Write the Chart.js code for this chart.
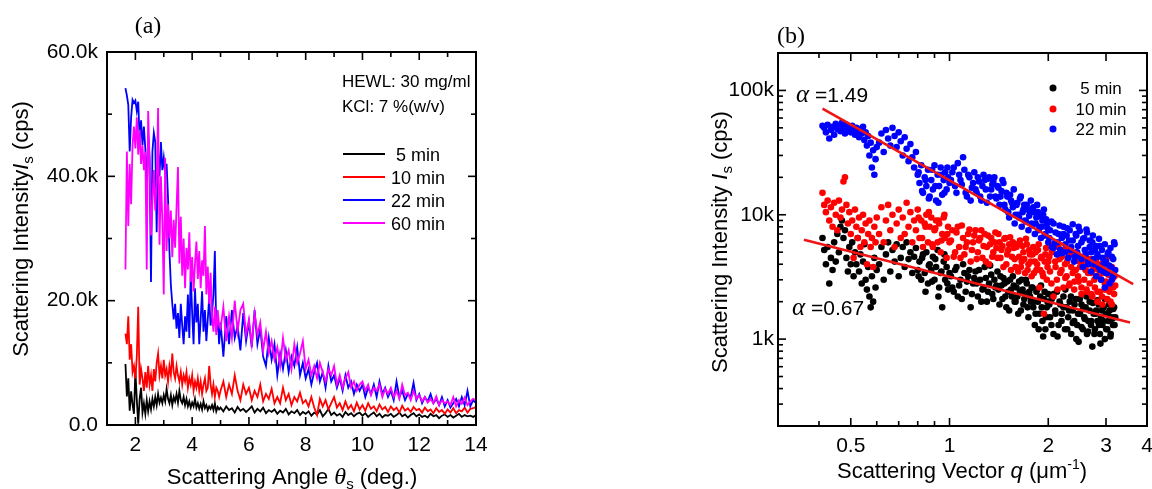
<!DOCTYPE html>
<html>
<head>
<meta charset="utf-8">
<title>Scattering intensity</title>
<script src="https://cdn.jsdelivr.net/npm/chart.js@4.4.1/dist/chart.umd.min.js"></script>
<style>
    html, body { margin: 0; padding: 0; background: #fff; overflow: hidden; }
    #wrap { position: relative; width: 1152px; height: 489px; }
    canvas { position: absolute; top: 0; }
    #chartA { left: 0; width: 560px; height: 489px; }
    #chartB { left: 560px; width: 592px; height: 489px; }
    #boxA { position: absolute; box-sizing: border-box; border: 2px solid #000; pointer-events: none; z-index: 3; }
</style>
</head>
<body>
<div id="wrap">
    <canvas id="chartA" width="560" height="489"></canvas>
    <canvas id="chartB" width="592" height="489"></canvas>
    <div id="boxA"></div>
</div>
<script>
// --- (a) intensity vs scattering angle, kcps ---

const angle = [
    1.65,1.70,1.75,1.80,1.85,1.90,1.95,2.00,2.05,2.10,
    2.15,2.20,2.25,2.30,2.35,2.40,2.45,2.50,2.55,2.60,
    2.65,2.70,2.75,2.80,2.85,2.90,2.95,3.00,3.05,3.10,
    3.15,3.20,3.25,3.30,3.35,3.40,3.45,3.50,3.55,3.60,
    3.65,3.70,3.75,3.80,3.85,3.90,3.95,4.00,4.05,4.10,
    4.15,4.20,4.25,4.30,4.35,4.40,4.45,4.50,4.55,4.60,
    4.65,4.70,4.75,4.80,4.85,4.90,4.95,
    5.0,5.1,5.2,5.3,5.4,5.5,5.6,5.7,5.8,5.9,
    6.0,6.1,6.2,6.3,6.4,6.5,6.6,6.7,6.8,6.9,
    7.0,7.1,7.2,7.3,7.4,7.5,7.6,7.7,7.8,7.9,
    8.0,8.1,8.2,8.3,8.4,8.5,8.6,8.7,8.8,8.9,
    9.0,9.1,9.2,9.3,9.4,9.5,9.6,9.7,9.8,9.9,
    10.0,10.1,10.2,10.3,10.4,10.5,10.6,10.7,10.8,10.9,
    11.0,11.1,11.2,11.3,11.4,11.5,11.6,11.7,11.8,11.9,
    12.0,12.1,12.2,12.3,12.4,12.5,12.6,12.7,12.8,12.9,
    13.0,13.1,13.2,13.3,13.4,13.5,13.6,13.7,13.8,13.9,
    14.0
];

const int5 = [
    9.8,4.6,7.5,2.3,5.4,3.3,1.8,8.8,4.0,0.2,
    4.2,6.0,2.0,3.5,1.8,4.0,2.2,3.8,2.5,4.2,
    3.0,4.5,3.2,5.0,3.6,4.4,3.5,4.8,3.8,5.8,
    4.2,3.5,4.8,3.2,4.5,3.8,5.0,3.6,5.5,4.0,
    3.5,4.5,3.2,4.2,3.0,3.8,2.8,3.6,3.0,4.2,
    2.8,3.5,2.6,3.4,2.5,3.8,2.7,3.2,2.4,3.0,
    2.6,3.2,2.4,3.5,2.2,2.9,2.5,
    2.8,2.2,3.0,2.4,2.7,2.0,2.9,2.3,2.6,2.1,
    2.5,3.0,2.0,2.6,2.2,2.8,1.9,2.4,2.1,2.5,
    1.8,2.3,2.0,2.6,1.7,2.2,1.9,2.4,1.6,2.1,
    1.8,2.2,1.5,2.0,1.7,2.4,1.4,1.9,2.6,1.6,
    2.0,1.5,1.8,1.3,2.1,1.6,1.9,1.4,1.8,2.0,
    1.5,1.9,1.3,1.7,2.0,1.4,1.8,1.2,1.6,1.5,
    1.8,1.3,1.6,2.0,1.4,1.7,1.2,1.6,1.9,1.4,
    1.7,1.3,1.5,1.2,1.8,1.4,1.6,1.1,1.5,1.7,
    1.3,1.6,1.2,1.5,1.8,1.3,1.6,1.4,1.5,1.3,
    1.6
];

const int10 = [
    14.7,13.0,17.5,10.5,13.0,8.5,9.5,7.5,11.0,19.0,
    6.5,9.0,7.5,5.5,8.5,6.0,9.5,6.5,8.0,5.5,
    9.0,7.0,10.0,11.5,8.0,9.5,7.5,10.5,8.0,9.0,
    7.0,9.5,8.0,11.5,8.5,7.5,9.5,8.0,7.0,8.5,
    6.5,8.0,7.0,8.5,6.0,7.5,6.5,8.0,5.5,7.0,
    6.0,7.5,5.5,7.0,5.0,6.5,7.5,5.5,6.0,9.5,
    6.5,5.0,6.5,4.5,6.0,5.5,4.5,
    5.5,7.0,4.5,6.5,5.0,8.0,5.5,4.0,6.5,5.0,
    6.0,4.0,5.5,4.5,6.5,3.8,5.0,4.2,5.8,3.5,
    4.5,3.5,6.0,4.0,5.0,3.2,4.5,3.8,5.2,3.5,
    4.0,3.0,4.5,2.8,1.6,4.2,3.0,4.0,2.5,3.5,
    4.5,2.8,3.5,2.4,3.8,2.6,3.2,2.2,3.6,2.5,
    3.2,2.3,3.5,2.6,3.0,2.2,3.3,2.5,2.9,2.1,
    3.0,2.4,2.8,2.0,3.1,2.3,2.7,2.1,2.9,2.4,
    2.6,2.0,2.8,2.2,2.5,1.9,2.7,2.1,2.4,1.8,
    2.5,2.0,2.7,1.9,2.4,2.2,2.8,2.0,2.6,2.7,
    2.9
];

const int22 = [
    54.2,53.0,51.5,44.0,49.5,52.3,51.8,52.2,50.5,52.0,
    46.0,49.0,45.0,48.0,44.5,37.0,46.5,43.0,23.0,44.0,
    47.0,45.5,31.0,44.0,40.0,45.5,41.0,43.0,40.5,42.0,
    36.5,28.0,22.5,19.5,17.0,19.5,15.5,18.0,14.0,19.5,
    16.0,13.0,17.5,15.0,21.0,14.0,24.5,18.0,13.0,22.0,
    16.5,19.5,13.0,17.0,21.5,15.0,18.5,13.5,17.0,20.5,
    16.0,18.0,21.0,28.0,15.0,17.5,13.0,
    16.5,11.0,17.5,13.0,18.5,14.0,16.0,12.0,18.0,13.5,
    16.5,12.5,18.5,13.0,15.5,11.0,9.5,14.0,10.5,13.0,
    8.0,11.5,9.0,12.0,8.5,11.0,9.5,12.5,8.0,10.0,
    7.5,9.0,6.5,8.5,10.0,7.0,8.5,6.0,9.5,7.0,
    8.0,6.0,7.5,5.5,8.0,6.0,7.0,5.0,6.5,5.5,
    6.5,4.5,6.0,5.0,6.5,4.5,7.0,5.0,6.0,4.5,
    5.5,4.0,7.0,4.5,5.5,4.0,5.0,4.5,6.8,4.0,
    5.0,3.5,4.5,3.8,5.0,3.5,4.2,3.2,4.5,3.0,
    4.0,2.8,3.5,4.2,3.0,4.5,3.2,5.5,3.0,4.0,
    3.5
];

const int60 = [
    25.0,44.0,32.0,42.0,35.5,45.0,48.0,44.5,49.5,43.5,
    47.5,42.0,45.0,41.0,44.0,25.0,50.5,42.5,30.5,36.0,
    41.0,34.5,39.0,51.0,29.0,40.0,33.0,21.0,43.0,28.0,
    35.5,30.0,34.5,27.0,33.0,28.5,35.0,41.5,26.0,33.5,
    24.0,30.0,22.0,28.5,25.0,31.0,23.0,27.0,21.5,26.0,
    29.5,23.5,28.0,22.0,26.5,24.0,32.0,21.0,25.5,19.5,
    24.5,17.5,15.0,19.0,14.5,18.5,16.0,
    15.5,19.0,13.5,17.5,14.0,20.0,15.0,18.5,19.5,14.5,
    17.0,13.0,18.0,14.5,16.5,12.0,15.0,11.5,13.5,10.5,
    12.5,9.5,14.0,10.5,12.0,9.0,13.0,10.0,11.5,13.5,
    9.0,10.5,8.0,9.5,7.5,10.0,8.5,7.0,9.0,8.0,
    9.5,6.5,8.0,6.0,7.5,8.5,6.0,7.0,5.5,6.5,
    7.0,5.5,6.5,4.8,6.0,5.5,6.5,4.5,5.8,5.0,
    6.0,4.5,5.5,4.2,6.5,4.8,5.2,4.0,5.5,4.2,
    4.8,3.8,4.5,3.6,4.2,3.5,4.6,3.2,4.0,3.5,
    3.8,3.2,4.5,3.0,4.0,3.4,4.4,3.2,3.8,4.2,
    4.0
];

const labelsA = ['5 min', '10 min', '22 min', '60 min'];

const xTicksA = [2, 4, 6, 8, 10, 12, 14];
const xMinorA = [3, 5, 7, 9, 11, 13];
const yTicksA = [0, 20, 40, 60];
const yTickLabelsA = ['0.0', '20.0k', '40.0k', '60.0k'];
const yMinorA = [10, 30, 50];

// --- (b) log-log intensity vs scattering vector q (um^-1), kcps ---

const qVec = [
    0.410,0.415,0.420,0.425,0.430,0.435,0.440,0.445,0.450,0.455,
    0.460,0.465,0.470,0.475,0.480,0.485,0.490,0.495,0.500,0.505,
    0.510,0.515,0.520,0.525,0.530,0.535,0.540,0.545,0.550,0.555,
    0.560,0.565,0.570,0.575,0.580,0.585,0.590,0.595,0.600,
    0.61,0.62,0.63,0.64,0.65,0.66,0.67,0.68,0.69,0.70,
    0.71,0.72,0.73,0.74,0.75,0.76,0.77,0.78,0.79,0.80,
    0.81,0.82,0.83,0.84,0.85,0.86,0.87,0.88,0.89,0.90,
    0.91,0.92,0.93,0.94,0.95,0.96,0.97,0.98,0.99,1.00,
    1.02,1.04,1.06,1.08,1.10,1.12,1.14,1.16,1.18,1.20,
    1.22,1.24,1.26,1.28,1.30,1.32,1.34,1.36,1.38,1.40,
    1.42,1.44,1.46,1.48,1.50,1.52,1.54,1.56,1.58,1.60,
    1.62,1.64,1.66,1.68,1.70,1.72,1.74,1.76,1.78,1.80,
    1.82,1.84,1.86,1.88,1.90,1.92,1.94,1.96,1.98,2.00,
    2.025,2.05,2.075,2.1,2.125,2.15,2.175,2.2,2.225,2.25,
    2.275,2.3,2.325,2.35,2.375,2.4,2.425,2.45,2.475,2.5,
    2.525,2.55,2.575,2.6,2.625,2.65,2.675,2.7,2.725,2.75,
    2.775,2.8,2.825,2.85,2.875,2.9,2.925,2.95,2.975,3.0,
    3.025,3.05,3.075,3.1,3.125,3.15,3.175,3.2
];

const qInt5 = [
    6.5,5.2,4,5.5,2.8,4.5,3.6,6,4.2,7,
    5,8,9,6.5,7.5,4.5,3.5,5.5,4,6,
    3.2,5,4,6.5,3.5,4.8,2.8,4.2,5.8,3,
    2.5,3.8,2.2,1.8,3.2,2,4.5,2.6,3.6,
    4,5.5,3,4.8,6,3.5,5.2,4.2,5.8,3.2,
    4.5,5.5,3.8,6,4.4,5,3.4,4.6,5.4,3.6,
    4.2,3,4.8,3.4,5,2.8,4,3.6,4.6,3,
    3.8,5.2,2.6,3.4,1.8,4.2,3,3.8,2.5,3.4,
    2.6,3.6,2.2,3,4,2.4,3.2,1.8,2.8,3.5,
    2.2,3,2.5,3.8,2,2.8,3.3,2.1,2.6,3.5,
    1.9,2.7,3.1,2.2,2.9,1.7,2.5,3.2,2,2.6,
    1.6,2.4,3,1.9,2.3,2.8,1.5,2.2,2.6,1.8,
    1.3,2.4,2,1.6,2.7,1.4,2.1,1.2,1.8,2.3,
    1.5,2.1,1.1,1.7,2.4,1.3,1.9,1.6,2.2,1.2,
    1.8,1.5,2,1.1,1.7,1.4,2.1,1.3,0.95,1.6,
    1.9,1.2,1.5,1.8,1.1,1.4,2,1.3,0.87,1.6,
    1.2,1.7,1.4,1.9,1.1,1.5,1.3,1.8,1,1.6,
    1.2,1.4,1.7,1.1,1.5,1.3,1.8,1.5
];

const qInt10 = [
    15,12,10.5,13,9,11.5,8,12.5,10,7.5,
    13,9.5,11,18.5,20,12,8.5,10.5,7,9,
    4.5,11,8,6.5,9.5,5.5,7.5,10,6,8.5,
    4,7,9,5.5,6.5,3.8,8,6,9.5,
    7,11.5,6,9,12,7.5,10,5.5,8.5,11,
    6.5,9.5,7,12.5,8,10.5,6,9,7.5,11,
    6.5,9,5.5,8.5,10,6,8,9.5,5.5,7.5,
    9,6,8.5,5,7,9.5,6.5,4.5,8,6,
    7.5,5,8,4.5,6.5,5.5,7,4.2,6,7.5,
    5,6.5,4.5,7,5.5,4,6.5,5,7.2,4.5,
    6,5.2,3.8,6.5,4.8,5.8,3.6,6,4.4,5.5,
    3.5,6.2,4.2,5,3.4,5.8,4,4.8,3.2,5.5,
    4.2,3.6,5.2,2.6,4.5,3.4,1.6,4.8,3,4.2,
    3.5,5,2.2,4.2,3,5.5,3.4,4.6,2.6,4,
    3.2,5.2,2.8,3.8,4.8,2.5,3.6,4.4,2.9,3.8,
    2.3,4.2,3,3.6,2.4,4,2.8,3.4,2.2,3.8,
    2.6,3.2,2,3.6,2.4,3,1.9,3.4,2.5,2.9,
    2.1,3.3,2.4,2.8,1.9,3.1,2.3,2.7
];

const qInt22 = [
    52,50,46,53,41,48,51,44,54,49,
    52,47,55,50,45,53,48,51,46,52,
    49,44,50,47,42,49,45,51,40,46,
    36,43,30,38,24,33,21,28,35,
    38,45,32,48,41,36,50,43,35,46,
    39,30,42,34,27,37,29,24,32,21,
    18,25,15,20,17,23,14,19,16,25,
    13,21,17,24,14.5,19,22,16,20,18,
    22,17,26,19,29,15,21,13,18,16,
    20,14,17,19,12.5,20,16,18.5,14,17,
    12,15.5,18,11,14,9.5,13,11.5,8.5,12,
    10,13.5,8,11,9,12,7.5,10.5,8.5,11.5,
    7,9.5,10.5,8,6.5,9,11,7,8.5,6,
    7.5,5.5,8.5,6,4.8,7,5.2,6.5,8,5,
    6.8,4.5,7.5,5.5,6.2,4.2,7,5,8,4.6,
    6,3.8,6.5,4.8,7.2,4,5.5,3.5,6,4.4,
    5.2,3.2,4.8,3.8,5.6,3,4.5,3.5,2.6,4.2,
    3.4,5,2.8,3.8,4.6,3.2,6,3.6
];

// second sweep, denser at larger q
const qVec2 = [
    0.805,0.825,0.845,0.865,0.885,0.905,0.925,0.945,0.965,0.985,
    1.01,1.03,1.05,1.07,1.09,1.11,1.13,1.15,1.17,1.19,
    1.21,1.23,1.25,1.27,1.29,1.31,1.33,1.35,1.37,1.39,
    1.41,1.43,1.45,1.47,1.49,1.51,1.53,1.55,1.57,1.59,
    1.61,1.63,1.65,1.67,1.69,1.71,1.73,1.75,1.77,1.79,
    1.81,1.83,1.85,1.87,1.89,1.91,1.93,1.95,1.97,1.99,
    2.015,2.045,2.075,2.105,2.135,2.165,2.195,2.225,2.255,2.285,
    2.315,2.345,2.375,2.405,2.435,2.465,2.495,2.525,2.555,2.585,
    2.615,2.645,2.675,2.705,2.735,2.765,2.795,2.825,2.855,2.885,
    2.915,2.945,2.975,3.005,3.035,3.065,3.095,3.125,3.155,3.185
];

const qInt5b = [
    3.2,4.5,2.4,3.9,2.9,4.4,2.2,3.5,4.8,2.8,
    3.2,2.4,3.8,2.7,2.1,3.4,2.9,3.6,2.3,3.1,
    2.8,3.6,2,2.6,3.1,2.4,3.9,2.3,3,2.7,
    2.5,3.2,2.1,2.8,1.8,2.4,3,2.2,2.7,2,
    2.2,2.9,1.7,2.5,2.1,3,1.8,2.4,2,2.6,
    2,1.6,2.5,1.2,2.2,1.8,1.05,2.4,1.5,2,
    1.9,1.3,2.3,1.6,1.05,2,1.4,1.8,2.5,1.2,
    1.7,2.2,1.35,1.9,1,1.6,2.1,1.25,1.75,1.45,
    2.2,1.15,1.7,1.4,1.95,1.1,1.6,2.05,1.3,0.92,
    1.7,1.4,2.1,1.2,1.6,1.9,1.05,1.45,1.75,1.3
];

const qInt10b = [
    9.5,6.5,8,10.5,5.8,7.8,9,6.2,10,7,
    6.2,4.6,7.2,5.5,8.2,4.8,6,7.6,5.2,6.8,
    4.4,6.2,7.5,5.6,4.2,6.8,5.8,4.6,6,5.4,
    7,4.5,5.6,6.4,4,5.2,6.6,4.6,5.4,3.8,
    5.8,4.6,3.8,5.6,4.4,6.4,3.6,5.2,4.2,4.8,
    3.4,5,4,5.8,3.6,4.6,3.2,4.2,5.4,3.8,
    4.6,2.8,5.8,3.8,2.5,4.4,3.6,5.2,3.1,4.2,
    2.7,4.8,3.4,2.9,5,3.2,4.2,2.6,3.8,4.6,
    2.5,3.4,4.4,2.3,3.6,3,4.2,2.4,3.2,4,
    2.2,3.6,2.8,4.4,2.5,3.4,2,3.8,2.6,3.2
];

const qInt22b = [
    22,15.5,19,13.5,23,17,12.5,21,15,24,
    19,24,15,21,17.5,23,14,20,16.5,22,
    15,18.5,13,21,16,19.5,14,17.5,20,13.5,
    16.5,14,19,12,15,10.5,14.5,12.5,16,10,
    12.5,9.5,14,10.5,12,8.8,11,9.8,13,8.2,
    10.5,8.5,12,7.5,9.8,8,10,6.8,9.2,7.8,
    6.5,8.8,5.4,7.2,6,8.2,4.9,7,5.8,7.8,
    6.2,5.2,8.4,4.6,6.8,5.6,7.4,4.4,6.4,5.2,
    7.6,4.2,6.2,5,6.8,4,5.6,4.6,6.4,3.6,
    5.2,4,5.8,3.4,4.8,3.9,5.4,3,4.4,5.8
];

const labelsB = ['5 min', '10 min', '22 min'];

// power-law fits I = A * q^-alpha, A in kcps at q = 1
const fitAlpha = [1.49, 0.67];
const fitPrefactor = [18.9, 3.18];
const fitQRange = [[0.41, 3.63], [0.36, 3.55]];

const xTicksB = [0.5, 1, 2, 3, 4];
const xMinorB = [0.3, 0.4, 0.6, 0.7, 0.8, 0.9];
const yTicksB = [1, 10, 100];
const yTickLabelsB = ['1k', '10k', '100k'];
const yMinorB = [0.2, 0.3, 0.4, 0.5, 0.6, 0.7, 0.8, 0.9, 2, 3, 4, 5, 6, 7, 8, 9, 20, 30, 40, 50, 60, 70, 80, 90, 200];

// --- shared drawing helpers ---

const SANS = '"Liberation Sans", Arial, sans-serif';
const SERIF = '"Liberation Serif", "Times New Roman", serif';
Chart.defaults.font.family = SANS;
Chart.defaults.color = '#000';

// draws a row of differently styled pieces starting (or centred) at x, baseline y
function drawRuns(ctx, runs, x, y, align) {
    let w = 0;
    runs.forEach(r => { ctx.font = r[1]; w += ctx.measureText(r[0]).width; });
    let cx = align === 'center' ? x - w / 2 : x;
    ctx.textAlign = 'left';
    ctx.textBaseline = 'alphabetic';
    runs.forEach(r => {
        ctx.font = r[1];
        ctx.fillText(r[0], cx, y + (r[2] || 0));
        cx += ctx.measureText(r[0]).width;
    });
}

// box around the plot with inward ticks on all four sides, drawn as filled bars
function drawFrame(ctx, chart, xMajor, xMinor, yMajor, yMinor) {
    const a = chart.chartArea;
    const sx = chart.scales.x, sy = chart.scales.y;
    const w = a.right - a.left, h = a.bottom - a.top;
    const tw = 1.6;
    ctx.save();
    ctx.fillStyle = '#000';
    const xt = (vals, len) => vals.forEach(v => {
        const p = sx.getPixelForValue(v) - tw / 2;
        ctx.fillRect(p, a.bottom - len, tw, len);
        ctx.fillRect(p, a.top, tw, len);
    });
    const yt = (vals, len) => vals.forEach(v => {
        const p = sy.getPixelForValue(v) - tw / 2;
        ctx.fillRect(a.left, p, len, tw);
        ctx.fillRect(a.right - len, p, len, tw);
    });
    xt(xMajor, 8); xt(xMinor, 5);
    yt(yMajor, 8); yt(yMinor, 5);
    ctx.fillRect(a.left - 1, a.top - 1, w + 2, 2);
    ctx.fillRect(a.left - 1, a.bottom - 1, w + 2, 2);
    ctx.fillRect(a.left - 1, a.top - 1, 2, h + 2);
    ctx.fillRect(a.right - 1, a.top - 1, 2, h + 2);
    ctx.restore();
}

function fixedTicks(values) {
    return scale => { scale.ticks = values.map(v => ({ value: v })); };
}

// pin an axis box to a given thickness and drop the label overhang padding
function pinSize(prop, size) {
    return s => {
        s[prop] = size;
        s.paddingLeft = 0; s.paddingRight = 0;
        s.paddingTop = 0; s.paddingBottom = 0;
    };
}

const tickFont = { family: SANS, size: 21 };

// --- chart (a) ---

const colorsA = ['#000000', '#ff0000', '#0000ff', '#ff00ff'];
const seriesA = [int5, int10, int22, int60];

const chartA = new Chart(document.getElementById('chartA'), {
    type: 'line',
    data: {
        datasets: seriesA.map((vals, i) => ({
            label: labelsA[i],
            data: angle.map((a, j) => ({ x: a, y: vals[j] })),
            borderColor: colorsA[i],
            borderWidth: 1.8,
            pointRadius: 0,
            tension: 0,
            order: 4 - i
        }))
    },
    options: {
        responsive: false,
        animation: false,
        devicePixelRatio: 1,
        layout: { padding: { left: 0, top: 52, right: 84, bottom: 0 } },
        plugins: { legend: { display: false }, tooltip: { enabled: false } },
        scales: {
            x: {
                type: 'linear', min: 1, max: 14,
                grid: { display: false, drawTicks: false },
                border: { display: false },
                afterBuildTicks: fixedTicks(xTicksA),
                afterFit: pinSize('height', 64),
                ticks: { font: tickFont, color: '#000', padding: 8, autoSkip: false, maxRotation: 0 }
            },
            y: {
                type: 'linear', min: 0, max: 60,
                grid: { display: false, drawTicks: false },
                border: { display: false },
                afterBuildTicks: fixedTicks(yTicksA),
                afterFit: pinSize('width', 107),
                ticks: {
                    font: tickFont, color: '#000', padding: 9, autoSkip: false,
                    callback: (v, i) => yTickLabelsA[i]
                }
            }
        }
    },
    plugins: [{
        id: 'decorA',
        afterDraw(chart) {
            const ctx = chart.ctx;
            ctx.save();
            ctx.fillStyle = '#000';
            drawRuns(ctx, [['(a)', '24px ' + SERIF]], 148, 33, 'center');
            drawRuns(ctx, [['HEWL: 30 mg/ml', '17px ' + SANS]], 342, 87);
            drawRuns(ctx, [['KCl: 7 %(w/v)', '17px ' + SANS]], 342, 112);
            drawRuns(ctx, [
                ['Scattering Angle ', '22px ' + SANS],
                ['\u03b8', 'italic 24px ' + SERIF],
                ['s', '15px ' + SANS, 5],
                [' (deg.)', '22px ' + SANS]
            ], 292, 484, 'center');
            ctx.save();
            ctx.translate(28, 229);
            ctx.rotate(-Math.PI / 2);
            drawRuns(ctx, [
                ['Scattering Intensity', '22px ' + SANS],
                ['I', 'italic 22px ' + SANS],
                ['s', '15px ' + SANS, 5],
                [' (cps)', '22px ' + SANS]
            ], 0, 0, 'center');
            ctx.restore();
            // legend
            const rows = [154, 177, 200, 223];
            chart.data.datasets.forEach((ds, i) => {
                ctx.fillStyle = ds.borderColor;
                ctx.fillRect(343, rows[i] - 1, 42, 2);
                ctx.fillStyle = '#000';
                drawRuns(ctx, [[ds.label, '18px ' + SANS]], 418, rows[i] + 7, 'center');
            });
            ctx.restore();
            // frame and ticks last, on top of everything
            drawFrame(ctx, chart, xTicksA, xMinorA, yTicksA, yMinorA);
        }
    }]
});

// outline box for (a), sized from the chart area of the rendered chart
(function placeBoxA() {
    const a = chartA.chartArea;
    const box = document.getElementById('boxA');
    box.style.left = (a.left - 1) + 'px';
    box.style.top = (a.top - 1) + 'px';
    box.style.width = (a.right - a.left + 2) + 'px';
    box.style.height = (a.bottom - a.top + 2) + 'px';
})();

// --- chart (b) ---

const colorsB = ['#000000', '#ff0000', '#0000ff'];
const seriesB = [[qInt5, qInt5b], [qInt10, qInt10b], [qInt22, qInt22b]];

const scatterSets = seriesB.map((pair, i) => ({
    type: 'scatter',
    label: labelsB[i],
    data: qVec.map((q, j) => ({ x: q, y: pair[0][j] }))
        .concat(qVec2.map((q, j) => ({ x: q, y: pair[1][j] }))),
    backgroundColor: colorsB[i],
    borderWidth: 0,
    pointRadius: 3.3,
    order: 3 - i
}));

const fitSets = fitAlpha.map((alpha, i) => ({
    type: 'line',
    data: fitQRange[i].map(q => ({ x: q, y: fitPrefactor[i] * Math.pow(q, -alpha) })),
    borderColor: '#f01414',
    borderWidth: 2.6,
    pointRadius: 0,
    order: 0
}));

new Chart(document.getElementById('chartB'), {
    type: 'scatter',
    data: { datasets: scatterSets.concat(fitSets) },
    options: {
        responsive: false,
        animation: false,
        devicePixelRatio: 1,
        layout: { padding: { left: 0, top: 53, right: 5, bottom: 0 } },
        plugins: { legend: { display: false }, tooltip: { enabled: false } },
        scales: {
            x: {
                type: 'logarithmic', min: 0.3, max: 4,
                grid: { display: false, drawTicks: false },
                border: { display: false },
                afterBuildTicks: fixedTicks(xTicksB),
                afterFit: pinSize('height', 63),
                ticks: {
                    font: tickFont, color: '#000', padding: 8, autoSkip: false, maxRotation: 0,
                    callback: (v, i) => String(xTicksB[i])
                }
            },
            y: {
                type: 'logarithmic', min: 0.2, max: 200,
                grid: { display: false, drawTicks: false },
                border: { display: false },
                afterBuildTicks: fixedTicks(yTicksB),
                afterFit: pinSize('width', 218),
                ticks: {
                    font: tickFont, color: '#000', padding: 4, autoSkip: false,
                    callback: (v, i) => yTickLabelsB[i]
                }
            }
        }
    },
    plugins: [{
        id: 'decorB',
        afterDraw(chart) {
            const ctx = chart.ctx;
            drawFrame(ctx, chart, xTicksB, xMinorB, yTicksB, yMinorB);
            ctx.save();
            ctx.fillStyle = '#000';
            drawRuns(ctx, [['(b)', '24px ' + SERIF]], 231, 43, 'center');
            drawRuns(ctx, [['\u03b1', 'italic 25px ' + SERIF], [' =' + fitAlpha[0].toFixed(2), '21px ' + SANS]], 236, 102);
            drawRuns(ctx, [['\u03b1', 'italic 25px ' + SERIF], [' =' + fitAlpha[1].toFixed(2), '21px ' + SANS]], 232, 315);
            drawRuns(ctx, [
                ['Scattering Vector ', '22px ' + SANS],
                ['q', 'italic 22px ' + SANS],
                [' (\u03bcm', '22px ' + SANS],
                ['-1', '14px ' + SANS, -9],
                [')', '22px ' + SANS]
            ], 402, 478, 'center');
            ctx.save();
            ctx.translate(167, 242);
            ctx.rotate(-Math.PI / 2);
            drawRuns(ctx, [
                ['Scattering Intensity ', '22px ' + SANS],
                ['I', 'italic 22px ' + SANS],
                ['s', '15px ' + SANS, 5],
                [' (cps)', '22px ' + SANS]
            ], 0, 0, 'center');
            ctx.restore();
            // legend
            const rows = [88, 109, 129];
            scatterSets.forEach((ds, i) => {
                ctx.fillStyle = ds.backgroundColor;
                ctx.beginPath();
                ctx.arc(493, rows[i], 3.5, 0, Math.PI * 2);
                ctx.fill();
                ctx.fillStyle = '#000';
                drawRuns(ctx, [[ds.label, '17px ' + SANS]], 541, rows[i] + 6, 'center');
            });
            ctx.restore();
        }
    }]
});
</script>
</body>
</html>
